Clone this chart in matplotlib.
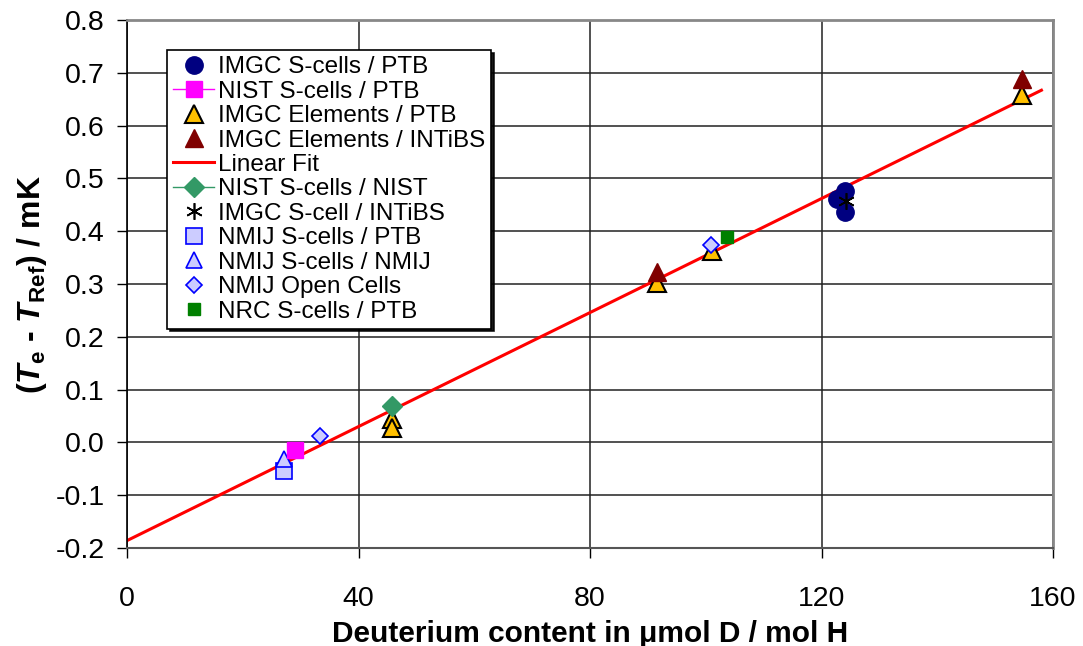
import matplotlib
matplotlib.use('Agg')
import matplotlib.pyplot as plt

# データ
imgc_s_ptb_x = [124.1, 122.6, 124.1]
imgc_s_ptb_y = [0.477, 0.461, 0.436]

nist_s_ptb_x = [29.1]
nist_s_ptb_y = [-0.015]

imgc_el_ptb_x = [45.8, 45.8, 91.5, 101.1, 154.7]
imgc_el_ptb_y = [0.045, 0.027, 0.301, 0.363, 0.658]

imgc_el_intibs_x = [91.5, 154.7]
imgc_el_intibs_y = [0.322, 0.688]

fit_x = [0, 158]
fit_y = [-0.186, 0.667]

nist_s_nist_x = [45.8]
nist_s_nist_y = [0.068]

imgc_s_intibs_x = [124.2]
imgc_s_intibs_y = [0.458]

nmij_s_ptb_x = [27.1]
nmij_s_ptb_y = [-0.055]

nmij_s_nmij_x = [27.1]
nmij_s_nmij_y = [-0.031]

nmij_open_x = [33.4, 100.9]
nmij_open_y = [0.013, 0.373]

nrc_s_ptb_x = [103.7]
nrc_s_ptb_y = [0.389]

y_ticks = [-0.2, -0.1, 0.0, 0.1, 0.2, 0.3, 0.4, 0.5, 0.6, 0.7, 0.8]
x_ticks = [0, 40, 80, 120, 160]

plt.rcParams.update({
    'font.family': ['Liberation Sans', 'DejaVu Sans'],
    'font.size': 15,
    'mathtext.fontset': 'custom',
    'mathtext.rm': 'Liberation Sans:bold',
    'mathtext.it': 'Liberation Sans:italic:bold',
    'mathtext.bf': 'Liberation Sans:bold',
})

fig = plt.figure(figsize=(10.83, 6.46), dpi=100)
ax = fig.add_axes([127 / 1083, 1 - 548 / 646, 926 / 1083, 528 / 646])

lb = '#ccccff'
ax.plot(imgc_s_ptb_x, imgc_s_ptb_y, 'o', color='#000080', ms=12.5, mec='#000080',
        label='IMGC S-cells / PTB', zorder=4)
ax.plot(nist_s_ptb_x, nist_s_ptb_y, 's-', color='#ff00ff', ms=11, mec='#ff00ff',
        lw=1, label='NIST S-cells / PTB', zorder=4)
ax.plot(imgc_el_ptb_x, imgc_el_ptb_y, '^', color='#ffc000', ms=13, mec='black',
        mew=1.5, label='IMGC Elements / PTB', zorder=3)
ax.plot(imgc_el_intibs_x, imgc_el_intibs_y, '^', color='#800000', ms=13,
        mec='#800000', label='IMGC Elements / INTiBS', zorder=3)
ax.plot(fit_x, fit_y, '-', color='#ff0000', lw=2.2, label='Linear Fit', zorder=2)
ax.plot(nist_s_nist_x, nist_s_nist_y, 'D-', color='#339966', ms=10, mec='#339966',
        lw=1, label='NIST S-cells / NIST', zorder=5)
ax.plot(imgc_s_intibs_x, imgc_s_intibs_y, ls='none', marker=(6, 2, 0), color='black',
        ms=12, mew=1.2, label='IMGC S-cell / INTiBS', zorder=6)
ax.plot(nmij_s_ptb_x, nmij_s_ptb_y, 's', mfc=lb, mec='#0000ff', ms=11, mew=1.2,
        label='NMIJ S-cells / PTB', zorder=3)
ax.plot(nmij_s_nmij_x, nmij_s_nmij_y, '^', mfc=lb, mec='#0000ff', ms=11, mew=1.2,
        label='NMIJ S-cells / NMIJ', zorder=3)
ax.plot(nmij_open_x, nmij_open_y, 'D', mfc=lb, mec='#0000ff', ms=8, mew=1.2,
        label='NMIJ Open Cells', zorder=4)
ax.plot(nrc_s_ptb_x, nrc_s_ptb_y, 's', color='#008000', ms=9, mec='#008000',
        label='NRC S-cells / PTB', zorder=4)

ax.set_xlim(0, 160)
ax.set_ylim(-0.2, 0.8)
ax.set_xticks(x_ticks)
ax.set_yticks(y_ticks)
ax.set_yticklabels([f'{v:.1f}' for v in y_ticks])
ax.grid(True, color='#222222', lw=1.1)
ax.set_axisbelow(True)
ax.tick_params(direction='out', length=7, width=1, labelsize=20.5)
ax.tick_params(axis='x', pad=20)
ax.tick_params(axis='y', pad=9)

for s in ['top', 'right']:
    ax.spines[s].set_color('#888888')
    ax.spines[s].set_linewidth(2)
ax.spines['left'].set_linewidth(1.2)
ax.spines['bottom'].set_color('#555555')
ax.spines['bottom'].set_linewidth(1.5)

ax.set_xlabel('Deuterium content in μmol D / mol H', fontsize=21.5,
              fontweight='bold', labelpad=6)
ax.set_ylabel(r'($T_{\mathrm{e}}$ - $T_{\mathrm{Ref}}$) / mK', fontsize=23,
              fontweight='bold', labelpad=5)

leg = ax.legend(loc='upper left', bbox_to_anchor=(0.043, 0.943), borderaxespad=0,
                fancybox=False, shadow={'color': 'black', 'alpha': 0.9},
                framealpha=1, edgecolor='black', fontsize=17.5, labelspacing=0.1,
                handlelength=1.7, handletextpad=0.15, borderpad=0.25,
                numpoints=1)
leg.get_frame().set_linewidth(1.2)
leg.set_zorder(10)

plt.savefig('out.png', dpi=100)
